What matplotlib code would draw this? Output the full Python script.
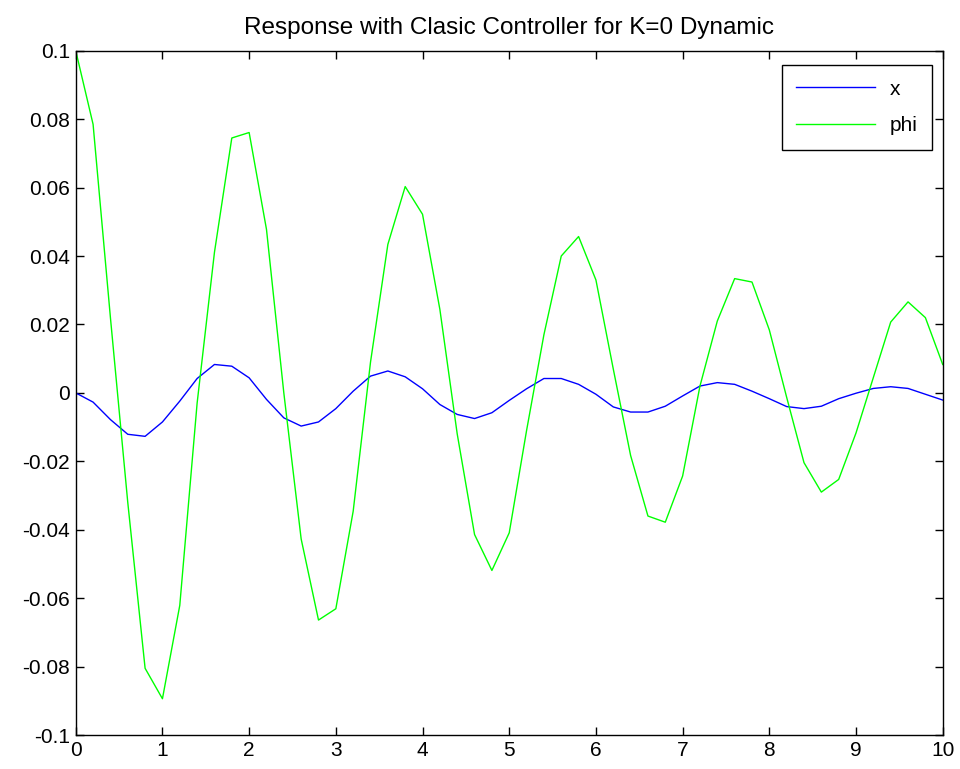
import matplotlib
matplotlib.use("Agg")
import matplotlib.pyplot as plt
import numpy as np

plt.rcParams['font.family'] = ['Liberation Sans', 'DejaVu Sans']

# sample times (0.2 s step)
t = np.arange(51) * 0.2

x_vals = [0.0, -0.0027, -0.0078, -0.0121, -0.0127, -0.0085, -0.0024, 0.0042, 0.0083, 0.0078,
          0.0044, -0.0019, -0.0073, -0.0097, -0.0085, -0.0046, 0.0005, 0.0049, 0.0064, 0.0047,
          0.0012, -0.0034, -0.0063, -0.0075, -0.0058, -0.0022, 0.0012, 0.0042, 0.0042, 0.0025,
          -0.0004, -0.0041, -0.0056, -0.0056, -0.0039, -0.0009, 0.0020, 0.0030, 0.0025, 0.0005,
          -0.0017, -0.0040, -0.0046, -0.0039, -0.0017, -0.0001, 0.0013, 0.0018, 0.0013, -0.0004,
          -0.0021]

phi_vals = [0.1, 0.0785, 0.022, -0.032, -0.0805, -0.0894, -0.0621, -0.003, 0.0411, 0.0745,
            0.0761, 0.0478, 0.0, -0.0427, -0.0664, -0.0631, -0.0346, 0.009, 0.0434, 0.0603,
            0.0522, 0.0244, -0.012, -0.0414, -0.0519, -0.0409, -0.011, 0.017, 0.040, 0.0457,
            0.033, 0.007, -0.0183, -0.036, -0.0378, -0.0243, 0.002, 0.021, 0.0334, 0.0324,
            0.0184, -0.0013, -0.0204, -0.029, -0.0253, -0.0117, 0.0045, 0.0207, 0.0266, 0.022,
            0.0083]

x_ticks = list(range(0, 11))
y_ticks = [-0.1, -0.08, -0.06, -0.04, -0.02, 0, 0.02, 0.04, 0.06, 0.08, 0.1]
y_tick_labels = ['-0.1', '-0.08', '-0.06', '-0.04', '-0.02', '0',
                 '0.02', '0.04', '0.06', '0.08', '0.1']

fig = plt.figure(figsize=(9.6, 7.69), dpi=100)
ax = fig.add_axes([0.0789, 0.0442, 0.9031, 0.8898])

ax.plot(t, x_vals, color='#0000FF', linewidth=1.0, label='x')
ax.plot(t, phi_vals, color='#00FF00', linewidth=1.0, label='phi')

ax.set_xlim(0, 10)
ax.set_ylim(-0.1, 0.1)
ax.set_xticks(x_ticks)
ax.set_xticklabels([str(v) for v in x_ticks])
ax.set_yticks(y_ticks)
ax.set_yticklabels(y_tick_labels)
ax.tick_params(direction='in', length=6, width=1, top=True, right=True,
               labelsize=15, colors='black', pad=4)
for sp in ax.spines.values():
    sp.set_linewidth(1.0)
    sp.set_color('black')

ax.set_title('Response with Clasic Controller for K=0 Dynamic', fontsize=17.5, pad=12)

leg = ax.legend(loc='upper right', fontsize=15, fancybox=False, framealpha=1,
                edgecolor='black', handlelength=3.8, handletextpad=0.7,
                borderpad=0.7, labelspacing=0.85, borderaxespad=0,
                bbox_to_anchor=(0.988, 0.979))
leg.get_frame().set_linewidth(1.0)

plt.savefig('out.png', dpi=100)
print("Saved out.png")
